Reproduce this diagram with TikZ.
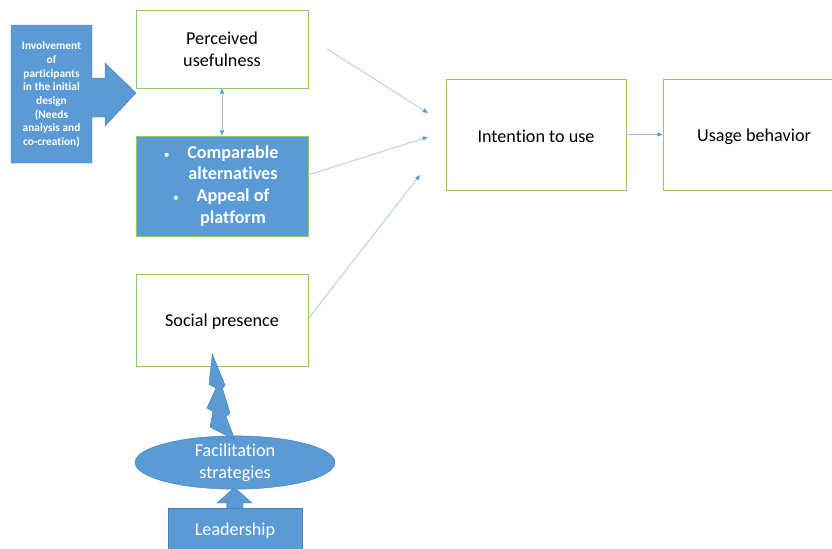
\documentclass[tikz,border=0pt]{standalone}
\usepackage{fontspec}
\setmainfont{Carlito}[RawFeature={-liga;-clig;-dlig;-calt}]
\usetikzlibrary{arrows.meta,shapes.geometric}
\definecolor{boxblue}{RGB}{91,155,213}
\definecolor{blueedge}{RGB}{72,128,180}
\definecolor{boxgreen}{RGB}{146,204,96}
\definecolor{linkblue}{RGB}{157,195,230}
\newcommand{\ptbullet}{\hspace*{18.7pt}\llap{{\fontsize{10}{10}\selectfont\mdseries\textbullet}\hspace{15pt}}}
\newcommand{\lowered}[2]{\raisebox{0pt}[\dimexpr\height+#1\relax]{#2}}

\begin{document}
\begin{tikzpicture}[
  x=0.03cm, y=-0.03cm,
  >={Triangle[length=4.5pt,width=3.6pt,color=boxblue]},
  every node/.style={font=\fontsize{15.5}{18.7}\selectfont},
  factor/.style={draw=boxgreen, line width=0.8pt, align=center, inner sep=0pt},
  bluefill/.style={fill=boxblue, draw=blueedge, line width=0.4pt},
  link/.style={draw=linkblue, line width=0.6pt, ->}
]
\clip (0,0) rectangle (832,548);

% Model boxes.
\node[factor, minimum width=5.16cm, minimum height=2.34cm] (pu) at (222,49)
  {Perceived\\usefulness};
\node[factor, fill=boxblue, text=white, font=\fontsize{15.5}{18.7}\selectfont\bfseries,
  minimum width=5.16cm, minimum height=3.0cm] (alt) at (222,186)
  {\ptbullet Comparable\\\hspace*{18.7pt}alternatives\\
   \ptbullet Appeal of\\\hspace*{18.7pt}platform};
\node[factor, minimum width=5.16cm, minimum height=2.76cm] (sp) at (222,320)
  {\lowered{2.6pt}{Social presence}};
\node[factor, minimum width=5.4cm, minimum height=3.33cm] (itu) at (536,134.5)
  {\lowered{2.6pt}{Intention to use}};
\node[factor, minimum width=5.46cm, minimum height=3.33cm] (ub) at (754,134.5)
  {\lowered{4.6pt}{Usage behavior}};

% Involvement callout arrow.
\path[bluefill] (11,25) -- (92,25) -- (92,78) -- (105,78) -- (105,63) -- (136,93)
  -- (105,126) -- (105,117) -- (92,117) -- (92,163) -- (11,163) -- cycle;
\node[text=white, align=center, inner sep=0pt,
  font=\fontsize{9.7}{11.7}\selectfont\bfseries] (inv) at (51.5,94.5)
  {Involvement\\of\\participants\\in the initial\\design\\(Needs\\analysis and\\co-creation)};

% Facilitation and leadership.
\node[ellipse, bluefill, text=white, align=center, inner sep=0pt,
  minimum width=6.0cm, minimum height=1.47cm] (fs) at (235,462.5)
  {Facilitation\\strategies};
\node[bluefill, text=white, inner sep=0pt, minimum width=4.02cm,
  minimum height=1.38cm] (lead) at (235,531) {Leadership};
\path[bluefill] (226.5,508) -- (226.5,503) -- (217,503) -- (234.5,487.5)
  -- (252,503) -- (243,503) -- (243,508) -- cycle;
\path[bluefill] (212.3,354) -- (225,385) -- (222.5,388.5) -- (230,413)
  -- (226,416.5) -- (235,440) -- (210,427) -- (213,411.5) -- (207,408)
  -- (216,388) -- (209,384.3) -- cycle;

% Connectors into intention.
\coordinate (puout) at (327,49);
\coordinate (altout) at (308,175);
\coordinate (spout) at (308,319);
\coordinate (in1) at (428,113);
\coordinate (in2) at (428,137);
\coordinate (in3) at (420,175);
\draw[link] (puout) -- (in1);
\draw[link] (altout) -- (in2);
\draw[link] (spout) -- (in3);
\draw[link] (itu) -- (ub);
\draw[link, <->] (pu) -- (alt);
\end{tikzpicture}
\end{document}
